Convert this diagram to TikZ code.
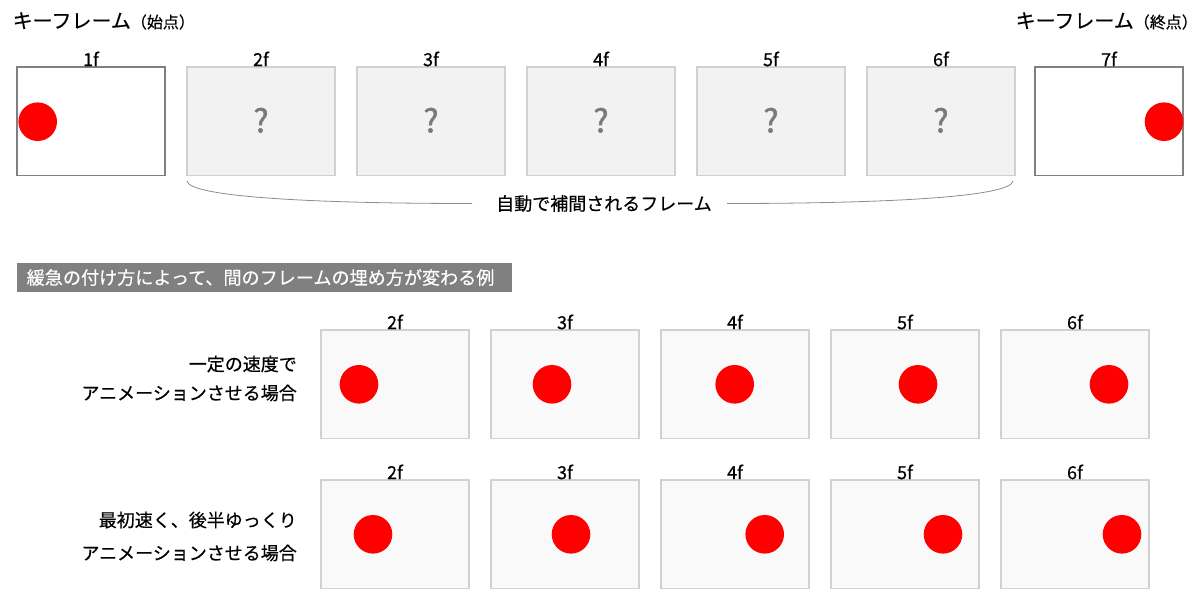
\documentclass[tikz,border=0pt]{standalone}
\usepackage{fontspec}
\setmainfont{Noto Sans CJK JP}[FakeBold=0.4]
\newfontfamily\qfont{Noto Sans CJK JP}[FakeBold=1.6]
\begin{document}
\begin{tikzpicture}[x=1pt,y=-1pt,
  keyframe/.style={draw=black!50, line width=1.3pt, fill=white, minimum width=148pt, minimum height=108.5pt, inner sep=0pt},
  midframe/.style={draw=black!18, line width=1.3pt, fill=black!5, minimum width=148pt, minimum height=108.5pt, inner sep=0pt},
  exframe/.style={draw=black!18, line width=1.3pt, fill=black!2.5, minimum width=148pt, minimum height=108.5pt, inner sep=0pt},
  ball/.style={circle, fill=red, minimum size=38.6pt, inner sep=0pt},
  flabel/.style={anchor=base, inner sep=0pt, font=\fontsize{18}{20}\selectfont},
  qmark/.style={text=black!52, font=\qfont\fontsize{32}{34}\selectfont, inner sep=0pt},
  rowlabel/.style={anchor=east, inner sep=0pt, font=\fontsize{18}{20}\selectfont},
  bracecurve/.style={draw=black!45, line width=0.8pt}
]
\useasboundingbox (0,0) rectangle (1200,600);

% titles
\node[anchor=west, inner sep=0pt] (t1) at (12.5,21) {\fontsize{20}{22}\selectfont キーフレーム\fontsize{16}{16}\selectfont（始点）};
\node[anchor=east, inner sep=0pt] (t2) at (1198,21) {\fontsize{20}{22}\selectfont キーフレーム\fontsize{16}{16}\selectfont（終点）};

% top frames
\node[keyframe] (k1) at (91,121.3) {};
\node[midframe] (m2) at (261,121.3) {};
\node[midframe] (m3) at (431,121.3) {};
\node[midframe] (m4) at (601,121.3) {};
\node[midframe] (m5) at (771,121.3) {};
\node[midframe] (m6) at (941,121.3) {};
\node[keyframe] (k7) at (1109,121.3) {};

\foreach \n/\t in {k1/1f,m2/2f,m3/3f,m4/4f,m5/5f,m6/6f,k7/7f}
  \node[flabel] (l\n) at ([yshift=0.3pt]\n.north) {\t};
\foreach \n in {m2,m3,m4,m5,m6}
  \node[qmark] (q\n) at ([yshift=1pt]\n.center) {?};

\node[ball] (b1) at (37.7,121.7) {};
\node[ball] (b7) at (1164,121.7) {};

% brace
\node[inner sep=0pt, font=\fontsize{18}{20}\selectfont] (interp) at (604,203.5) {自動で補間されるフレーム};
\coordinate (bl) at (187,181);
\coordinate (blm) at (472,203.5);
\coordinate (brm) at (727,203.5);
\coordinate (br) at (1013,181);
\draw[bracecurve] (bl) .. controls (189,196) and (300,203.5) .. (blm);
\draw[bracecurve] (brm) .. controls (900,203.5) and (1011,196) .. (br);

% banner
\node[fill=black!50, anchor=north west, minimum width=495pt, minimum height=29pt, inner sep=0pt] (banner) at (16.7,262.7) {};
\node[anchor=west, text=white, inner sep=0pt, font=\fontsize{18.1}{20}\selectfont] (bannertext) at (26.5,277.5) {緩急の付け方によって、間のフレームの埋め方が変わる例};

% row labels
\node[rowlabel] (r1a) at (297,364) {一定の速度で};
\node[rowlabel] (r1b) at (297,393) {アニメーションさせる場合};
\node[rowlabel] (r2a) at (297,520) {最初速く、後半ゆっくり};
\node[rowlabel] (r2b) at (297,553) {アニメーションさせる場合};

% example rows
\foreach \i/\x/\t in {1/395/2f,2/565/3f,3/735/4f,4/905/5f,5/1075/6f} {
  \node[exframe] (a\i) at (\x,384.3) {};
  \node[flabel] (la\i) at ([yshift=0.3pt]a\i.north) {\t};
  \node[exframe] (c\i) at (\x,534.3) {};
  \node[flabel] (lc\i) at ([yshift=0.3pt]c\i.north) {\t};
}
\foreach \i/\x in {1/359,2/552,3/734.7,4/918,5/1109}
  \node[ball] (ba\i) at (\x,384.3) {};
\foreach \i/\x in {1/373,2/571,3/764.7,4/943,5/1122}
  \node[ball] (bc\i) at (\x,534.3) {};
\end{tikzpicture}
\end{document}
